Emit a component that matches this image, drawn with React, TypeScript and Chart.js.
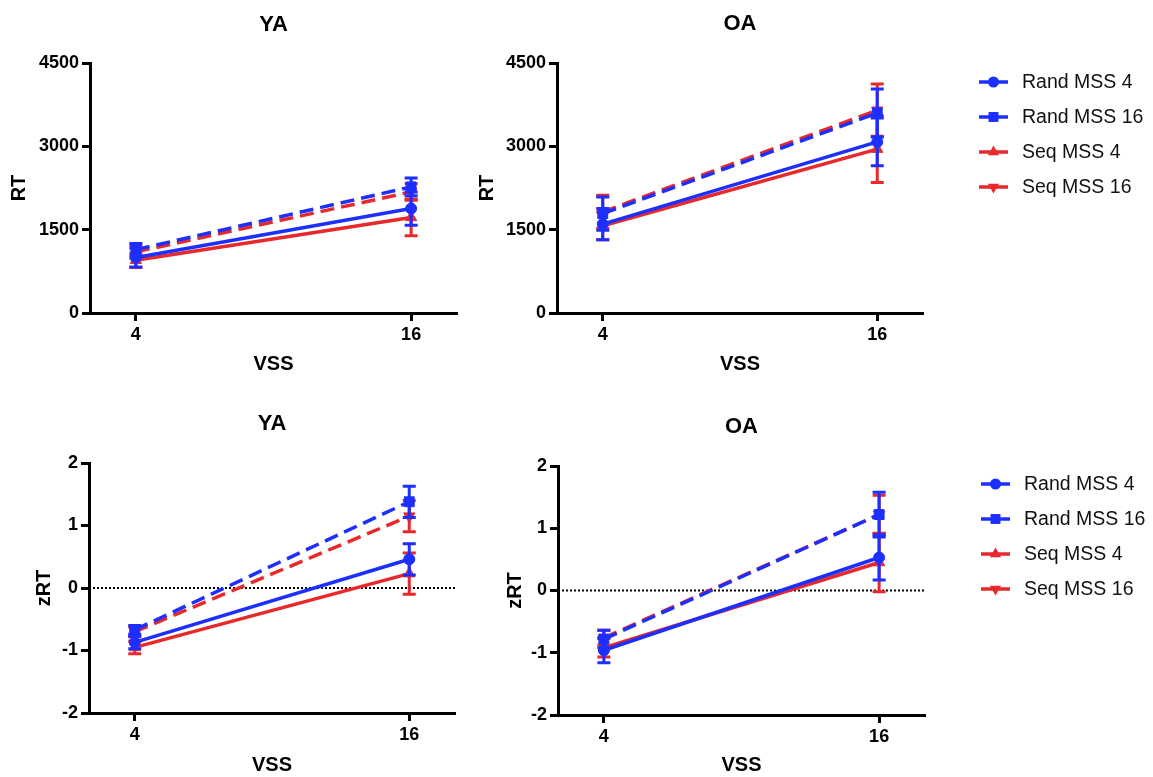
import React, { useEffect, useRef } from 'react';
import { Chart, registerables } from 'chart.js';

Chart.register(...registerables);

const W = 1153;
const H = 777;
const FONT = '"Liberation Sans", Arial, Helvetica, sans-serif';

// ---------- data ----------
const vss = [4, 16];
const xTicks = [4, 16];
const xRange = [2, 18];
const seriesLabels = ['Rand MSS 4', 'Rand MSS 16', 'Seq MSS 4', 'Seq MSS 16'];
const rtTicks = [0, 1500, 3000, 4500];
const zTicks = [-2, -1, 0, 1, 2];

// YA, RT
const yaRtRand4 = [1000, 1880];
const yaRtRand4Err = [170, 300];
const yaRtRand16 = [1140, 2270];
const yaRtRand16Err = [110, 160];
const yaRtSeq4 = [950, 1720];
const yaRtSeq4Err = [130, 330];
const yaRtSeq16 = [1100, 2180];
const yaRtSeq16Err = [120, 150];

// OA, RT
const oaRtRand4 = [1600, 3080];
const oaRtRand4Err = [280, 430];
const oaRtRand16 = [1790, 3600];
const oaRtRand16Err = [300, 430];
const oaRtSeq4 = [1570, 2950];
const oaRtSeq4Err = [250, 600];
const oaRtSeq16 = [1820, 3650];
const oaRtSeq16Err = [300, 470];

// YA, zRT
const yaZRand4 = [-0.87, 0.46];
const yaZRand4Err = [0.1, 0.25];
const yaZRand16 = [-0.67, 1.38];
const yaZRand16Err = [0.07, 0.25];
const yaZSeq4 = [-0.95, 0.23];
const yaZSeq4Err = [0.1, 0.33];
const yaZSeq16 = [-0.7, 1.15];
const yaZSeq16Err = [0.08, 0.25];

// OA, zRT
const oaZRand4 = [-0.96, 0.53];
const oaZRand4Err = [0.2, 0.36];
const oaZRand16 = [-0.78, 1.22];
const oaZRand16Err = [0.14, 0.36];
const oaZSeq4 = [-0.92, 0.45];
const oaZSeq4Err = [0.15, 0.47];
const oaZSeq16 = [-0.76, 1.22];
const oaZSeq16Err = [0.12, 0.31];

// ---------- styles ----------
const BLUE = '#1c2fff';
const RED = '#e8292c';
const seriesStyles = [
  { color: BLUE, pointStyle: 'circle', radius: 5.5, rotation: 0, dash: [] as number[] },
  { color: BLUE, pointStyle: 'rect', radius: 7, rotation: 0, dash: [14, 7] },
  { color: RED, pointStyle: 'triangle', radius: 6.5, rotation: 0, dash: [] as number[] },
  { color: RED, pointStyle: 'triangle', radius: 6.5, rotation: 180, dash: [14, 7] },
];

type Area = { left: number; right: number; top: number; bottom: number };
type PanelSpec = {
  title: string;
  yLabel: string;
  yTicks: number[];
  values: number[][];
  errors: number[][];
  area: Area;
  titleY: number;
  yTitleX: number;
  xTitleY: number;
  zeroLine: boolean;
  legendY: number | null;
};

const panels: PanelSpec[] = [
  {
    title: 'YA', yLabel: 'RT', yTicks: rtTicks,
    values: [yaRtRand4, yaRtRand16, yaRtSeq4, yaRtSeq16],
    errors: [yaRtRand4Err, yaRtRand16Err, yaRtSeq4Err, yaRtSeq16Err],
    area: { left: 90, right: 457, top: 63, bottom: 313 },
    titleY: 25, yTitleX: 19, xTitleY: 364, zeroLine: false, legendY: null,
  },
  {
    title: 'OA', yLabel: 'RT', yTicks: rtTicks,
    values: [oaRtRand4, oaRtRand16, oaRtSeq4, oaRtSeq16],
    errors: [oaRtRand4Err, oaRtRand16Err, oaRtSeq4Err, oaRtSeq16Err],
    area: { left: 557, right: 923, top: 63, bottom: 313 },
    titleY: 24, yTitleX: 487, xTitleY: 364, zeroLine: false, legendY: 82,
  },
  {
    title: 'YA', yLabel: 'zRT', yTicks: zTicks,
    values: [yaZRand4, yaZRand16, yaZSeq4, yaZSeq16],
    errors: [yaZRand4Err, yaZRand16Err, yaZSeq4Err, yaZSeq16Err],
    area: { left: 89, right: 455, top: 463, bottom: 713 },
    titleY: 424, yTitleX: 44, xTitleY: 765, zeroLine: true, legendY: null,
  },
  {
    title: 'OA', yLabel: 'zRT', yTicks: zTicks,
    values: [oaZRand4, oaZRand16, oaZSeq4, oaZSeq16],
    errors: [oaZRand4Err, oaZRand16Err, oaZSeq4Err, oaZSeq16Err],
    area: { left: 558, right: 925, top: 466, bottom: 715 },
    titleY: 427, yTitleX: 515, xTitleY: 765, zeroLine: true, legendY: 484,
  },
];

// ---------- plugins ----------
const errorBarPlugin = {
  id: 'errorBars',
  beforeDatasetDraw(chart: any, args: any) {
    const ds: any = chart.data.datasets[args.index];
    if (!ds.errors) return;
    const xs = chart.scales.x;
    const ys = chart.scales.y;
    const ctx = chart.ctx;
    ctx.save();
    ctx.strokeStyle = ds.borderColor;
    ctx.lineWidth = 3;
    ctx.setLineDash([]);
    ctx.lineCap = 'butt';
    ds.data.forEach((pt: any, i: number) => {
      const e = ds.errors[i];
      const x = xs.getPixelForValue(pt.x);
      const y1 = ys.getPixelForValue(pt.y + e);
      const y2 = ys.getPixelForValue(pt.y - e);
      ctx.beginPath();
      ctx.moveTo(x, y1);
      ctx.lineTo(x, y2);
      ctx.moveTo(x - 6.5, y1);
      ctx.lineTo(x + 6.5, y1);
      ctx.moveTo(x - 6.5, y2);
      ctx.lineTo(x + 6.5, y2);
      ctx.stroke();
    });
    ctx.restore();
  },
};

function drawMarker(ctx: CanvasRenderingContext2D, st: any, x: number, y: number) {
  ctx.beginPath();
  const r = st.radius;
  if (st.pointStyle === 'circle') {
    ctx.arc(x, y, r, 0, Math.PI * 2);
  } else if (st.pointStyle === 'rect') {
    const s = r * Math.SQRT1_2;
    ctx.rect(x - s, y - s, 2 * s, 2 * s);
  } else {
    let a = (st.rotation * Math.PI) / 180;
    for (let k = 0; k < 3; k++) {
      const px = x + Math.sin(a) * r;
      const py = y - Math.cos(a) * r;
      if (k === 0) ctx.moveTo(px, py);
      else ctx.lineTo(px, py);
      a += (Math.PI * 2) / 3;
    }
    ctx.closePath();
  }
  ctx.fill();
}

const sideLegendPlugin = {
  id: 'sideLegend',
  afterDraw(chart: any, _args: any, opts: any) {
    if (!opts || !opts.display) return;
    const ctx = chart.ctx;
    const right = chart.chartArea.right;
    ctx.save();
    let row = 0;
    chart.data.datasets.forEach((ds: any) => {
      if (ds.inLegend === false) return;
      const st = ds.legendStyle;
      const y = opts.y0 + row * opts.dy;
      ctx.strokeStyle = st.color;
      ctx.fillStyle = st.color;
      ctx.lineWidth = 3.5;
      ctx.setLineDash([]);
      ctx.beginPath();
      ctx.moveTo(right + 56, y);
      ctx.lineTo(right + 85, y);
      ctx.stroke();
      drawMarker(ctx, st, right + 70.5, y);
      ctx.fillStyle = '#111';
      ctx.font = `19.5px ${FONT}`;
      ctx.textAlign = 'left';
      ctx.textBaseline = 'middle';
      ctx.fillText(ds.label, right + 99, y + 1);
      row++;
    });
    ctx.restore();
  },
};

// ---------- config ----------
const TITLE_SIZE = 22;
const AXIS_TITLE_SIZE = 20;
const TICK_SIZE = 18;

function buildConfig(p: PanelSpec): any {
  const titleLh = TITLE_SIZE * 1.2;
  const axisLh = AXIS_TITLE_SIZE * 1.2;
  const padLeft = p.yTitleX - axisLh / 2;
  const scaleBottom = p.xTitleY + axisLh / 2;
  const padBottom = Math.max(0, H - scaleBottom);
  const yWidth = p.area.left - padLeft;
  const xHeight = H - padBottom - p.area.bottom;
  const titlePadTop = p.titleY - titleLh / 2;
  const titlePadBottom = p.area.top - p.titleY - titleLh / 2;

  const datasets: any[] = p.values.map((vals, i) => {
    const st = seriesStyles[i];
    return {
      label: seriesLabels[i],
      data: vss.map((x, j) => ({ x, y: vals[j] })),
      errors: p.errors[i],
      legendStyle: st,
      borderColor: st.color,
      backgroundColor: st.color,
      borderWidth: 3.5,
      borderDash: st.dash,
      pointStyle: st.pointStyle,
      pointRadius: st.radius,
      pointRotation: st.rotation,
      pointBackgroundColor: st.color,
      pointBorderColor: st.color,
      pointBorderWidth: 1,
      tension: 0,
      fill: false,
      order: 0,
    };
  });
  if (p.zeroLine) {
    datasets.push({
      label: 'zero',
      inLegend: false,
      data: [{ x: xRange[0], y: 0 }, { x: xRange[1], y: 0 }],
      borderColor: '#000',
      borderWidth: 2,
      borderDash: [2, 2],
      pointRadius: 0,
      fill: false,
      order: 5,
    });
  }

  const axisCommon = {
    grid: { drawOnChartArea: false, drawTicks: true, tickLength: 8, tickWidth: 3, tickColor: '#000' },
    border: { display: true, color: '#000', width: 3 },
  };

  return {
    type: 'line',
    data: { datasets },
    options: {
      animation: false,
      responsive: false,
      devicePixelRatio: 1,
      events: [],
      layout: { padding: { left: padLeft, right: W - p.area.right, top: 0, bottom: padBottom } },
      plugins: {
        legend: { display: false },
        tooltip: { enabled: false },
        title: {
          display: true,
          text: p.title,
          fullSize: false,
          color: '#000',
          font: { family: FONT, size: TITLE_SIZE, weight: 'bold' },
          padding: { top: titlePadTop, bottom: titlePadBottom },
        },
        sideLegend: { display: p.legendY !== null, y0: p.legendY, dy: 35 },
      },
      scales: {
        x: {
          type: 'linear',
          min: xRange[0],
          max: xRange[1],
          afterBuildTicks: (s: any) => { s.ticks = xTicks.map((v) => ({ value: v })); },
          afterFit: (s: any) => { s.height = xHeight; },
          ticks: {
            callback: (v: any) => String(v),
            color: '#000',
            font: { family: FONT, size: TICK_SIZE, weight: 'bold' },
            padding: 3,
            maxRotation: 0,
            autoSkip: false,
          },
          title: {
            display: true,
            text: 'VSS',
            color: '#000',
            font: { family: FONT, size: AXIS_TITLE_SIZE, weight: 'bold' },
            padding: 0,
          },
          ...axisCommon,
        },
        y: {
          type: 'linear',
          min: p.yTicks[0],
          max: p.yTicks[p.yTicks.length - 1],
          afterBuildTicks: (s: any) => { s.ticks = p.yTicks.map((v) => ({ value: v })); },
          afterFit: (s: any) => { s.width = yWidth; },
          ticks: {
            callback: (v: any) => String(v),
            color: '#000',
            font: { family: FONT, size: TICK_SIZE, weight: 'bold' },
            padding: 3,
            autoSkip: false,
          },
          title: {
            display: true,
            text: p.yLabel,
            color: '#000',
            font: { family: FONT, size: AXIS_TITLE_SIZE, weight: 'bold' },
            padding: 0,
          },
          ...axisCommon,
        },
      },
    },
    plugins: [errorBarPlugin, sideLegendPlugin],
  };
}

function Panel({ spec }: { spec: PanelSpec }) {
  const ref = useRef<HTMLCanvasElement>(null);
  useEffect(() => {
    if (!ref.current) return;
    const chart = new Chart(ref.current, buildConfig(spec));
    return () => chart.destroy();
  }, [spec]);
  return (
    <canvas
      ref={ref}
      width={W}
      height={H}
      style={{ position: 'absolute', left: 0, top: 0, width: W, height: H }}
    />
  );
}

export default function App() {
  return (
    <div style={{ position: 'fixed', left: 0, top: 0, width: W, height: H, background: '#fff' }}>
      {panels.map((p, i) => (
        <Panel key={i} spec={p} />
      ))}
    </div>
  );
}
